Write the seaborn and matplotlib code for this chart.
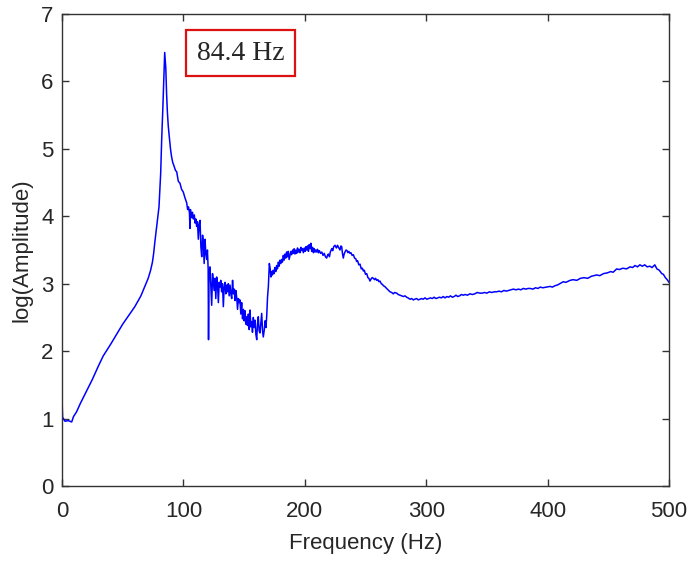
import numpy as np
import pandas as pd
import seaborn as sns
import matplotlib
matplotlib.use("Agg")
import matplotlib.pyplot as plt

# values
freq_hz = [
    0, 0.5, 2.5, 5, 8, 9.5, 12, 15, 20, 25, 30, 34, 40, 45, 50,
    55, 60, 65, 68, 71, 73, 74.5, 75.5, 76.5, 78, 79.9, 81.3, 82.1, 83.1, 84, 84.6, 85.5,
    86.2, 86.8, 87.5, 88.1, 89.5, 90.3, 91.2, 92.2, 93.5, 94.5, 95.8, 97.2, 98.5, 99.9, 101.2,
    102.7, 103.5, 104.2, 105, 105.4, 105.8, 106.8, 107.5, 108.2, 109, 109.6, 110.3, 110.9, 111.6,
    112.3, 113, 113.7, 114.4, 115.1, 115.8, 116.4, 117.1, 117.8, 118.5, 119.2, 119.8, 120.4, 120.7,
    121.1, 121.9, 122.6, 123.3, 124, 124.6, 125.3, 126, 126.7, 127.4, 128.1, 128.8, 129.5, 130.1,
    130.8, 131.5, 132.2, 132.9, 133.6, 134.3, 135, 135.6, 136.3, 137, 137.7, 138.4, 139.1, 139.8,
    140.5, 141.2, 141.9, 142.5, 143.2, 143.9, 144.6, 145.3, 146, 146.6, 147.3, 148, 148.7, 149.4,
    150, 150.7, 151.4, 152.1, 152.8, 153.5, 154.2, 154.9, 155.5, 156.2, 156.9, 157.6, 158.3, 159,
    159.7, 160.4, 161, 161.7, 162.4, 163.1, 163.8, 164.5, 165.2, 165.8, 166.6, 167.3, 168, 168.6,
    169.3, 170, 170.8, 171.5, 172.1, 172.7, 173.4, 174, 174.7, 175.4, 176.1, 176.8, 177.5, 178.2,
    178.9, 179.6, 180.3, 181, 181.6, 182.3, 183, 183.7, 184.4, 185, 185.7, 186.4, 187.1, 187.8,
    188.5, 189.2, 190, 190.5, 191.2, 191.9, 192.6, 193.3, 194, 194.7, 195.4, 196, 196.8, 197.5,
    198.2, 198.8, 199.6, 200.3, 201, 201.5, 202.3, 203, 203.6, 204.3, 205, 205.7, 206.4, 207.1,
    207.8, 208.5, 209.2, 209.8, 210.5, 211.2, 212, 213, 214, 215, 216, 217, 218, 218.7, 219.4,
    220.3, 221, 222.2, 223, 223.8, 224.9, 226, 227, 227.7, 228.4, 229, 229.7, 230.4, 231, 231.7,
    232.4, 233.1, 234, 234.8, 235.5, 236.3, 237.2, 238, 239, 240, 241, 242, 242.7, 243.5, 244.5,
    245.5, 246.5, 247.4, 248.2, 249, 250, 251, 252, 252.8, 253.7, 254.6, 255.5, 256.5, 257.4,
    258.3, 259.2, 260.2, 261, 261.9, 263, 264, 264.7, 265.8, 267.4, 268.5, 270.2, 271.5, 272.9,
    274, 275.7, 277, 278.4, 280, 281.2, 282.5, 283.9, 285, 286.7, 288, 289.4, 290.5, 292.1, 293.5,
    294.9, 296, 297.5, 299, 300.5, 302, 303.5, 305, 306.5, 308, 309.5, 311, 312.5, 314, 315.5, 317,
    318.5, 320, 321.5, 323, 324.5, 326, 327.5, 329, 330.6, 332, 334, 336, 338, 340, 342, 344.3,
    346, 348, 350, 352, 354, 356, 358, 360, 362, 364, 366, 368, 370, 371.7, 374, 376, 378, 380,
    382, 384, 385.5, 388, 390, 392, 394, 396, 399.2, 402, 404, 406, 408, 410, 413, 415, 418.5,
    421, 424, 427, 430, 433, 436, 440.4, 443, 446, 449, 452, 454, 456.9, 459, 462, 465, 467.9,
    470, 472, 474, 476, 478, 480, 482, 484.2, 486, 488.3, 490, 492, 494, 495.3, 497, 498.5, 500,
]
log_amp = [
    1.30, 1.02, 0.96, 0.97, 0.95, 1.03, 1.10, 1.22, 1.40, 1.58, 1.78, 1.93, 2.10, 2.25, 2.40,
    2.53, 2.66, 2.82, 2.95, 3.08, 3.20, 3.32, 3.45, 3.62, 3.85, 4.14,
    4.64, 5.13, 5.62, 6.12, 6.43, 6.20, 5.80, 5.55, 5.35, 5.23, 4.98, 4.88, 4.80, 4.75, 4.68, 4.66,
    4.52, 4.49, 4.40, 4.36, 4.28, 4.20, 4.10, 4.14, 4.05, 3.82, 4.10, 3.98, 4.06, 3.96, 4.02, 3.90,
    3.96, 3.85, 3.92, 3.66, 3.88, 3.94, 3.55, 3.40, 3.72, 3.62, 3.30, 3.66, 3.45, 3.36, 3.50, 3.22,
    2.17, 3.15, 3.25, 2.95, 2.68, 3.15, 3.05, 2.90, 3.08, 2.78, 3.10, 3.00, 2.72, 3.02, 2.95, 3.05,
    2.88, 3.00, 2.66, 2.95, 3.02, 2.85, 2.98, 2.88, 3.00, 2.82, 2.98, 2.85, 2.78, 3.05, 2.85, 2.92,
    2.75, 2.90, 2.80, 2.62, 2.78, 2.72, 2.76, 2.55, 2.72, 2.48, 2.62, 2.45, 2.60, 2.40, 2.51, 2.38,
    2.55, 2.32, 2.61, 2.36, 2.44, 2.28, 2.50, 2.35, 2.46, 2.25, 2.17, 2.40, 2.51, 2.30, 2.27, 2.42,
    2.56, 2.30, 2.21, 2.31, 2.45, 2.35, 2.51, 2.80, 2.96, 3.30, 3.22, 3.10, 3.18, 3.13, 3.20, 3.15,
    3.24, 3.18, 3.27, 3.22, 3.32, 3.26, 3.35, 3.30, 3.36, 3.32, 3.42, 3.35, 3.44, 3.38, 3.47, 3.40,
    3.48, 3.36, 3.42, 3.48, 3.43, 3.50, 3.45, 3.52, 3.44, 3.50, 3.45, 3.53, 3.47, 3.51, 3.46, 3.54,
    3.49, 3.52, 3.46, 3.53, 3.48, 3.55, 3.50, 3.56, 3.48, 3.58, 3.52, 3.60, 3.48, 3.54, 3.46, 3.52,
    3.47, 3.50, 3.47, 3.51, 3.46, 3.49, 3.45, 3.47, 3.42, 3.45, 3.40, 3.38, 3.42, 3.44, 3.40, 3.47,
    3.52, 3.49, 3.55, 3.57, 3.53, 3.57, 3.54, 3.52, 3.50, 3.56, 3.55, 3.45, 3.38, 3.44, 3.47, 3.50,
    3.49, 3.46, 3.48, 3.45, 3.46, 3.42, 3.43, 3.38, 3.37, 3.33, 3.34, 3.28, 3.29, 3.22, 3.23, 3.19,
    3.20, 3.14, 3.15, 3.09, 3.08, 3.04, 3.07, 3.09, 3.08, 3.06, 3.08, 3.05, 3.06, 3.03, 3.04, 3.00,
    2.99, 2.97, 2.96, 2.93, 2.91, 2.88, 2.87, 2.85, 2.87, 2.86, 2.84, 2.83, 2.82, 2.81, 2.82, 2.80,
    2.79, 2.77, 2.78, 2.76, 2.77, 2.78, 2.76, 2.77, 2.78, 2.77, 2.79, 2.77, 2.78, 2.79, 2.78, 2.80,
    2.78, 2.79, 2.80, 2.79, 2.81, 2.79, 2.81, 2.80, 2.82, 2.80, 2.81, 2.83, 2.81, 2.82, 2.84, 2.83,
    2.84, 2.83, 2.85, 2.84, 2.85, 2.87, 2.86, 2.86, 2.87, 2.86, 2.88, 2.87, 2.88, 2.88, 2.89, 2.88,
    2.90, 2.89, 2.90, 2.91, 2.92, 2.91, 2.92, 2.91, 2.93, 2.92, 2.93, 2.93, 2.92, 2.94, 2.93, 2.95,
    2.94, 2.95, 2.96, 2.95, 2.97, 2.98, 3.00, 3.03, 3.02, 3.05, 3.06, 3.05, 3.08, 3.09, 3.08, 3.11,
    3.13, 3.12, 3.15, 3.16, 3.18, 3.17, 3.22, 3.21, 3.23, 3.22, 3.25, 3.24, 3.27, 3.25, 3.28, 3.26,
    3.28, 3.25, 3.26, 3.24, 3.28, 3.22, 3.20, 3.15, 3.14, 3.09, 3.06, 3.02,
]
peak_label = "84.4 Hz"
x_ticks = [0, 100, 200, 300, 400, 500]
y_ticks = [0, 1, 2, 3, 4, 5, 6, 7]

df = pd.DataFrame({"freq": freq_hz, "amp": log_amp})

sns.set_style("ticks")
plt.rcParams["font.family"] = ["Liberation Sans", "DejaVu Sans"]
plt.rcParams["xtick.direction"] = "in"
plt.rcParams["ytick.direction"] = "in"

fig = plt.figure(figsize=(6.88, 5.61), dpi=100)
ax = fig.add_axes([0.0901, 0.1337, 0.8823, 0.8413])

sns.lineplot(data=df, x="freq", y="amp", ax=ax, color="#0000ff",
             linewidth=1.1, sort=False, estimator=None)

ax.set_xlim(0, 500)
ax.set_ylim(0, 7)
ax.set_xticks(x_ticks)
ax.set_yticks(y_ticks)
ax.tick_params(axis="both", which="both", direction="in", length=5, width=1,
               labelsize=16, top=True, right=True, color="#333333")
ax.tick_params(axis="x", pad=11)
ax.tick_params(axis="y", pad=6)
for side in ["top", "right", "left", "bottom"]:
    ax.spines[side].set_visible(True)
    ax.spines[side].set_color("#333333")
    ax.spines[side].set_linewidth(1)

ax.set_xlabel("Frequency (Hz)", fontsize=16, labelpad=8)
ax.set_ylabel("log(Amplitude)", fontsize=16, labelpad=6)

ax.text(147, 6.42, peak_label, fontsize=20, family=["Liberation Serif", "DejaVu Serif"],
        ha="center", va="center",
        bbox=dict(boxstyle="square,pad=0.38", facecolor="white", edgecolor="#dd1111", linewidth=1.6))

fig.savefig("out.png", dpi=100)
